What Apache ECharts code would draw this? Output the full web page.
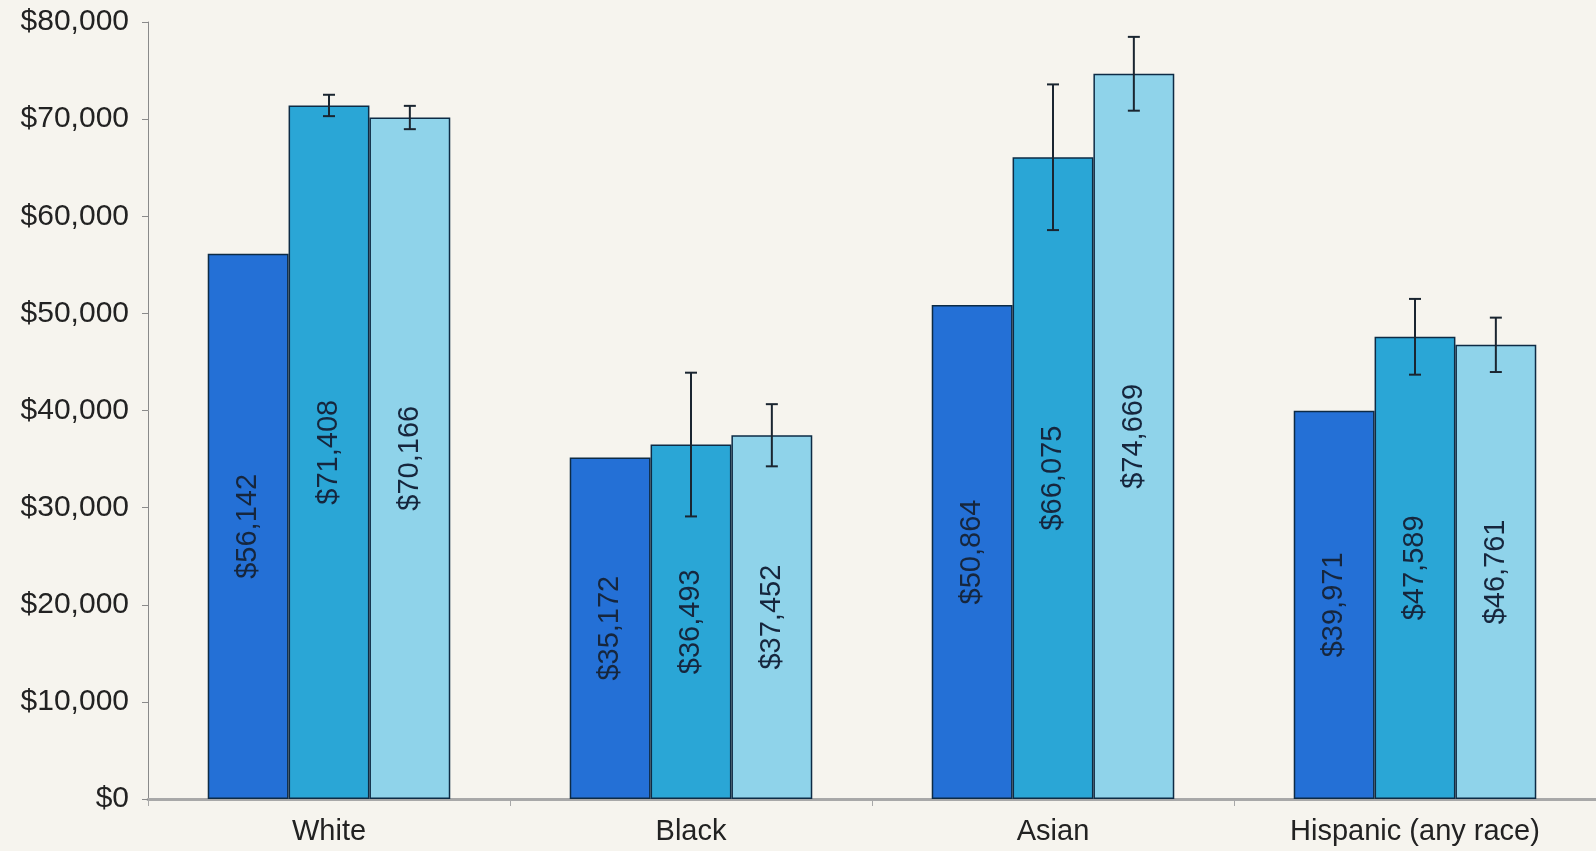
<!DOCTYPE html>
<html>
<head>
<meta charset="utf-8">
<script src="https://cdn.jsdelivr.net/npm/echarts@6/dist/echarts.min.js"></script>
<style>
html,body{margin:0;padding:0;background:#f6f4ee;}
#chart{width:1596px;height:851px;}
</style>
</head>
<body>
<div id="chart"></div>
<script>
const categories = ['White', 'Black', 'Asian', 'Hispanic (any race)'];
const series1 = [56142, 35172, 50864, 39971];
const series2 = [71408, 36493, 66075, 47589];
const series3 = [70166, 37452, 74669, 46761];
const err2 = [1100, 7400, 7500, 3900];
const err3 = [1200, 3200, 3800, 2800];
const yTicks = [0, 10000, 20000, 30000, 40000, 50000, 60000, 70000, 80000];

const colors = ['#2470d6', '#2aa6d6', '#8fd3ea'];
const FONT = '"Liberation Sans", Arial, sans-serif';
const GAP = 0.33;

function money(v) { return '$' + Math.round(v).toLocaleString('en-US'); }

function barSeries(data, idx) {
  return {
    type: 'bar',
    data: data,
    barGap: '0%',
    barCategoryGap: (GAP * 100) + '%',
    itemStyle: { color: colors[idx], borderColor: '#0d2b45', borderWidth: 1.5 },
    label: {
      show: true, position: 'inside', rotate: 90,
      formatter: p => money(p.value),
      fontFamily: FONT, fontSize: 29, color: '#16263d'
    },
    z: 2
  };
}

function errSeries(values, errs, idx) {
  const data = values.map((v, i) => [i, v - errs[i], v + errs[i]]);
  return {
    type: 'custom',
    data: data,
    z: 5,
    renderItem: function (params, api) {
      const ci = api.value(0);
      const lo = api.coord([ci, api.value(1)]);
      const hi = api.coord([ci, api.value(2)]);
      const band = api.size([1, 0])[0];
      const bw = band * (1 - GAP) / 3;
      const x = lo[0] + (idx - 1) * bw;
      const cap = 6;
      const st = { stroke: '#1a2530', lineWidth: 2 };
      return {
        type: 'group',
        children: [
          { type: 'line', shape: { x1: x, y1: lo[1], x2: x, y2: hi[1] }, style: st },
          { type: 'line', shape: { x1: x - cap, y1: lo[1], x2: x + cap, y2: lo[1] }, style: st },
          { type: 'line', shape: { x1: x - cap, y1: hi[1], x2: x + cap, y2: hi[1] }, style: st }
        ]
      };
    }
  };
}

const chart = echarts.init(document.getElementById('chart'));
chart.setOption({
  backgroundColor: '#f6f4ee',
  animation: false,
  grid: { left: 148, right: 0, top: 22, bottom: 52 },
  xAxis: {
    type: 'category',
    data: categories,
    axisLine: { lineStyle: { color: '#a8a8a8', width: 3 } },
    axisTick: { show: true, length: 7, lineStyle: { color: '#a8a8a8', width: 1 } },
    axisLabel: { fontFamily: FONT, fontSize: 29, color: '#222', margin: 18 }
  },
  yAxis: {
    type: 'value',
    min: yTicks[0],
    max: yTicks[yTicks.length - 1],
    interval: yTicks[1] - yTicks[0],
    splitLine: { show: false },
    axisLine: { show: true, lineStyle: { color: '#8a8a8a', width: 1 } },
    axisTick: { show: true, length: 6, lineStyle: { color: '#8a8a8a' } },
    axisLabel: { fontFamily: FONT, fontSize: 30, color: '#222', margin: 19, formatter: v => money(v) }
  },
  series: [
    barSeries(series1, 0),
    barSeries(series2, 1),
    barSeries(series3, 2),
    errSeries(series2, err2, 1),
    errSeries(series3, err3, 2)
  ]
});
</script>
</body>
</html>
